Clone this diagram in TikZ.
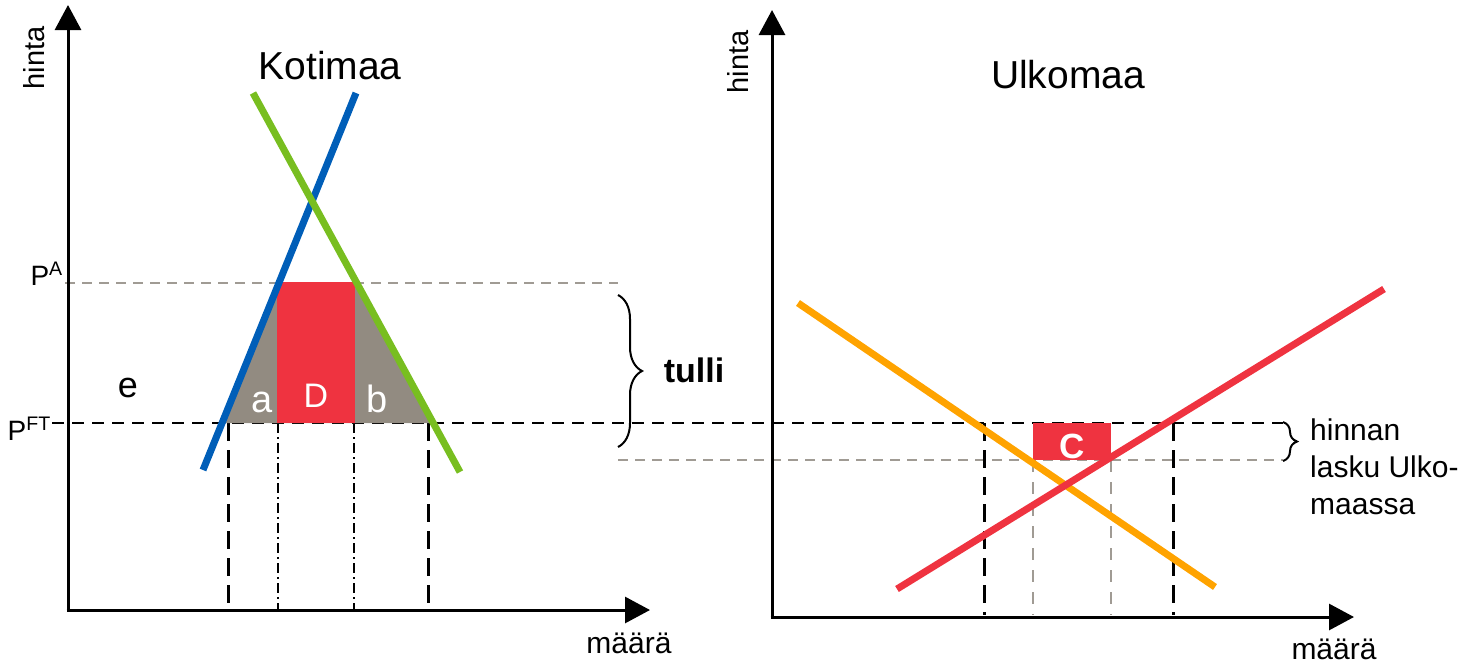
\documentclass[tikz,border=0pt]{standalone}
\usepackage{fontspec}
\setmainfont{Liberation Sans}
\usetikzlibrary{arrows.meta,decorations.pathreplacing}
\definecolor{sblue}{RGB}{0,94,184}
\definecolor{sgreen}{RGB}{120,190,32}
\definecolor{sred}{RGB}{239,51,64}
\definecolor{sorange}{RGB}{255,163,0}
\definecolor{sgrayfill}{RGB}{146,139,129}
\definecolor{sgrayline}{RGB}{160,155,148}
\tikzset{
  axis/.style={line width=3pt,-{Triangle[length=25pt,width=26pt]}},
  blackdash/.style={black,line width=2.5pt,dash pattern=on 12pt off 8pt},
  vdash/.style={black,line width=3pt,dash pattern=on 18pt off 9pt},
  graydash/.style={sgrayline,line width=2pt,dash pattern=on 10pt off 7pt},
  dashdot/.style={black,line width=1.5pt,dash pattern=on 10pt off 4pt on 2pt off 4pt},
  curve/.style={line width=7pt},
  lbl/.style={inner sep=0pt},
  bracestyle/.style={line width=2pt,decorate},
}
\begin{document}
\begin{tikzpicture}[x=1pt,y=-1pt]
\useasboundingbox (0,0) rectangle (1474,664);
% coordinates
\coordinate (LO) at (68,610);
\coordinate (LY) at (68,5);
\coordinate (LX) at (650,610);
\coordinate (RO) at (772,617);
\coordinate (RY) at (772,10);
\coordinate (RX) at (1354,617);
% dashed guides
\coordinate (PAs) at (65,283);
\coordinate (PAe) at (618,283);
\coordinate (PFs) at (52,423);
\coordinate (PFe) at (1283,423);
\coordinate (PLs) at (618,460);
\coordinate (PLe) at (1283,460);
\draw[graydash] (PAs) -- (PAe);
\draw[blackdash] (PFs) -- (PFe);
\draw[graydash] (PLs) -- (PLe);
\foreach \x/\n in {228/v1,428/v2}{\draw[vdash] (\x,423) coordinate (\n t) -- (\x,610) coordinate (\n b);}
\foreach \x/\n in {278/d1,354/d2}{\draw[dashdot] (\x,423) coordinate (\n t) -- (\x,610) coordinate (\n b);}
\foreach \x/\n in {984/w1,1173/w2}{\draw[vdash] (\x,423) coordinate (\n t) -- (\x,615) coordinate (\n b);}
\foreach \x/\n in {1033/g1,1111/g2}{\draw[graydash,dash pattern=on 12pt off 10pt] (\x,460) coordinate (\n t) -- (\x,615) coordinate (\n b);}
% areas
\fill[sgrayfill] (222.1,423) -- (278.9,283) -- (356.8,283) -- (433.2,423) -- cycle;
\fill[sred] (277,282) rectangle (355,423);
\fill[sred] (1033,423) rectangle (1111,460);
% curves
\draw[curve,sblue] (203,470) coordinate (S1) -- (356,93) coordinate (S2);
\draw[curve,sgreen] (253,93) coordinate (D1) -- (460,472) coordinate (D2);
\draw[curve,sorange] (798,303) coordinate (FD1) -- (1215,587) coordinate (FD2);
\draw[curve,sred] (897,589) coordinate (FS1) -- (1384,289) coordinate (FS2);
% axes
\draw[axis] (LO) -- (LY);
\draw[axis] ([xshift=-1.5pt]LO) -- (LX);
\draw[axis] (RO) -- (RY);
\draw[axis] ([xshift=-1.5pt]RO) -- (RX);
% braces
\draw[bracestyle,decoration={brace,amplitude=24pt}] (618,295) coordinate (B1) -- (618,447) coordinate (B2);
\draw[bracestyle,decoration={brace,amplitude=14pt}] (1283,422) coordinate (B3) -- (1283,461) coordinate (B4);
% labels
\node[lbl,anchor=base,font=\fontsize{39}{44}\selectfont] (kot) at (330,79) {Kotimaa};
\node[lbl,anchor=base,font=\fontsize{39}{44}\selectfont] (ulk) at (1068,88) {Ulkomaa};
\node[lbl,rotate=90,font=\fontsize{29}{34}\selectfont] (hl) at (34,58) {hinta};
\node[lbl,rotate=90,font=\fontsize{29}{34}\selectfont] (hr) at (738,62) {hinta};
\node[lbl,anchor=base,font=\fontsize{30}{34}\selectfont] (ml) at (629,653) {määrä};
\node[lbl,anchor=base,font=\fontsize{30}{34}\selectfont] (mr) at (1334,659) {määrä};
\node[lbl,anchor=base east,font=\fontsize{28}{32}\selectfont] (pa) at (63,285) {P\textsuperscript{A}};
\node[lbl,anchor=base east,font=\fontsize{28}{32}\selectfont] (pft) at (51,440) {P\textsuperscript{FT}};
\node[lbl,anchor=base,font=\fontsize{36}{40}\selectfont] (e) at (128,397) {e};
\node[lbl,anchor=base,white,font=\fontsize{38}{42}\selectfont] (a) at (262,412) {a};
\node[lbl,anchor=base,white,font=\fontsize{34}{38}\selectfont] (D) at (316,407) {D};
\node[lbl,anchor=base,white,font=\fontsize{38}{42}\selectfont] (b) at (377,412) {b};
\node[lbl,anchor=base,font=\bfseries\fontsize{34}{38}\selectfont] (tulli) at (694,382) {tulli};
\node[lbl,anchor=base,white,font=\bfseries\fontsize{35}{40}\selectfont] (C) at (1072,458) {C};
\node[lbl,anchor=north west,align=left,font=\fontsize{30}{37}\selectfont] (hl2) at (1310,419) {hinnan\\lasku Ulko-\\maassa};
\end{tikzpicture}
\end{document}
